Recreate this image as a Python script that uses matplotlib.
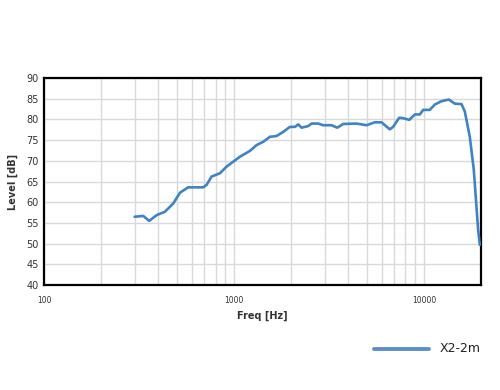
import matplotlib
matplotlib.use("Agg")
import matplotlib.pyplot as plt
from matplotlib.ticker import FixedLocator, NullLocator, NullFormatter
from matplotlib.lines import Line2D

freq = [300, 333, 358, 392, 433, 479, 520, 574, 689, 718, 763, 844, 915, 992,
        1076, 1214, 1316, 1427, 1547, 1678, 1819, 1972, 2096, 2181, 2272, 2462,
        2566, 2778, 2951, 3266, 3499, 3760, 4422, 4994, 5522, 5988, 6620, 6890,
        7418, 7788, 8375, 8975, 9530, 9913, 10750, 11430, 12390, 13540, 14560,
        15790, 16440, 17460, 18330, 19320, 19720]
level = [56.5, 56.7, 55.5, 56.9, 57.7, 59.7, 62.3, 63.6, 63.6, 64.2, 66.2, 67.0,
         68.6, 69.8, 71.0, 72.4, 73.8, 74.6, 75.8, 76.0, 77.0, 78.2, 78.2, 78.8,
         78.0, 78.4, 79.0, 79.0, 78.6, 78.6, 78.0, 78.9, 79.0, 78.6, 79.3, 79.3,
         77.6, 78.2, 80.4, 80.3, 79.9, 81.2, 81.2, 82.3, 82.3, 83.6, 84.4, 84.8,
         83.8, 83.7, 81.9, 75.8, 67.8, 53.3, 49.7]
series_name = "X2-2m"
x_ticks = [100, 1000, 10000]
x_ticklabels = ["100", "1000", "10000"]
y_ticks = [40, 45, 50, 55, 60, 65, 70, 75, 80, 85, 90]
minor_grid = [200, 300, 400, 500, 600, 700, 800, 900,
              2000, 3000, 4000, 5000, 6000, 7000, 8000, 9000,
              20000]

fig = plt.figure(figsize=(5, 3.9), dpi=100)
ax = fig.add_axes([0.088, 0.269, 0.874, 0.531])
color = "#3f83c4"
ax.plot(freq, level, color=color, lw=1.9, solid_capstyle="round", zorder=3)
ax.set_xscale("log")
ax.set_xlim(100, 20000)
ax.set_ylim(40, 90)
ax.xaxis.set_major_locator(FixedLocator(x_ticks))
ax.set_xticklabels(x_ticklabels)
ax.xaxis.set_minor_locator(FixedLocator(minor_grid))
ax.xaxis.set_minor_formatter(NullFormatter())
ax.set_yticks(y_ticks)
ax.grid(True, which="both", axis="x", color="#d9d9d9", lw=1.0)
ax.grid(True, which="major", axis="y", color="#d9d9d9", lw=1.0)
ax.tick_params(which="both", length=0)
ax.tick_params(axis="x", labelsize=5.5, pad=8, colors="#333333")
ax.tick_params(axis="y", labelsize=7, pad=4, colors="#333333")
for s in ax.spines.values():
    s.set_linewidth(1.6)
    s.set_color("black")
ax.set_xlabel("Freq [Hz]", fontsize=7, fontweight="bold", color="#333333", labelpad=4)
ax.set_ylabel("Level [dB]", fontsize=7, fontweight="bold", color="#333333", labelpad=6)

fig.lines.append(Line2D([374/500, 429/500], [1-349/390, 1-349/390],
                        transform=fig.transFigure, color="#5b8fc8", lw=2.8,
                        solid_capstyle="round"))
fig.text(440/500, 1-349/390, series_name, fontsize=9, va="center", ha="left",
         color="#222222")

fig.savefig("out.png", dpi=100)
